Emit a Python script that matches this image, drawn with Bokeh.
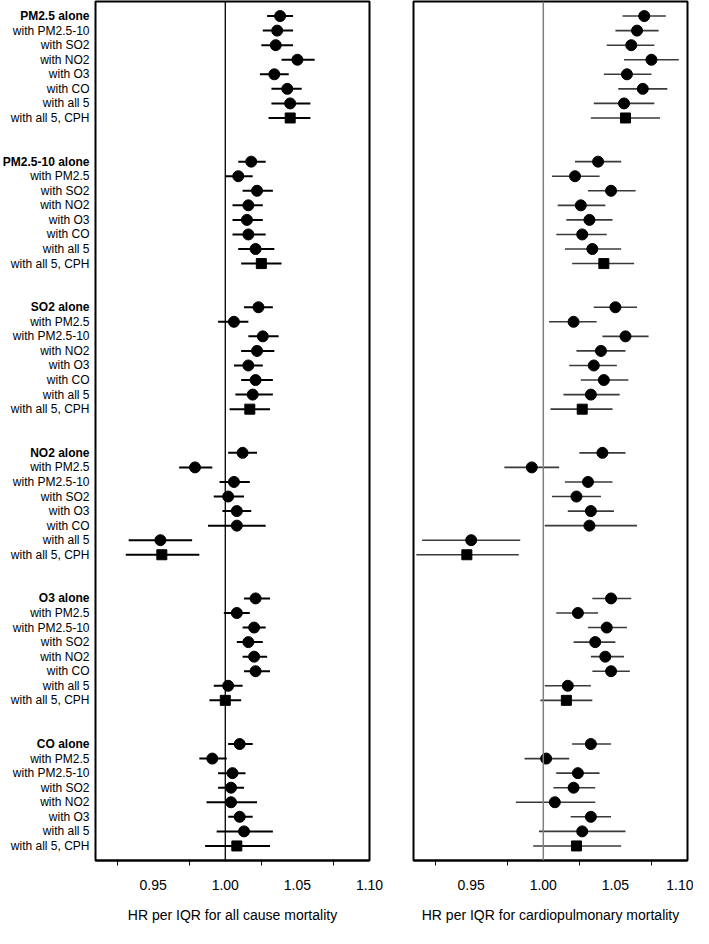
from bokeh.plotting import figure
from bokeh.layouts import row
from bokeh.models import Range1d, FixedTicker, Span
from bokeh.embed import file_html
from bokeh.resources import INLINE
from bokeh.core.properties import value

FONT = "Liberation Sans"

pollutants = ["PM2.5", "PM2.5-10", "SO2", "NO2", "O3", "CO"]

# HR per IQR, all cause mortality (8 models per pollutant)
allcause_hr = [1.038, 1.036, 1.035, 1.050, 1.034, 1.043, 1.045, 1.045,
               1.018, 1.009, 1.022, 1.016, 1.015, 1.016, 1.021, 1.025,
               1.023, 1.006, 1.026, 1.022, 1.016, 1.021, 1.019, 1.017,
               1.012, 0.979, 1.006, 1.002, 1.008, 1.008, 0.955, 0.956,
               1.021, 1.008, 1.020, 1.016, 1.020, 1.021, 1.002, 1.000,
               1.010, 0.991, 1.005, 1.004, 1.004, 1.010, 1.013, 1.008]
allcause_lo = [1.029, 1.026, 1.025, 1.039, 1.024, 1.032, 1.032, 1.030,
               1.009, 1.000, 1.012, 1.005, 1.005, 1.005, 1.009, 1.011,
               1.013, 0.995, 1.016, 1.011, 1.006, 1.011, 1.007, 1.003,
               1.002, 0.968, 0.996, 0.992, 0.998, 0.988, 0.933, 0.931,
               1.013, 0.999, 1.012, 1.008, 1.012, 1.013, 0.992, 0.989,
               1.002, 0.982, 0.995, 0.995, 0.987, 1.002, 0.994, 0.986]
allcause_hi = [1.047, 1.047, 1.047, 1.062, 1.044, 1.053, 1.059, 1.059,
               1.028, 1.019, 1.033, 1.026, 1.026, 1.028, 1.034, 1.039,
               1.033, 1.016, 1.037, 1.034, 1.026, 1.033, 1.033, 1.031,
               1.022, 0.991, 1.017, 1.013, 1.018, 1.028, 0.977, 0.982,
               1.031, 1.017, 1.028, 1.026, 1.029, 1.031, 1.012, 1.011,
               1.019, 1.001, 1.014, 1.013, 1.022, 1.019, 1.033, 1.031]

# HR per IQR, cardiopulmonary mortality
cardio_hr = [1.070, 1.065, 1.061, 1.075, 1.058, 1.069, 1.056, 1.057,
             1.038, 1.022, 1.047, 1.026, 1.032, 1.027, 1.034, 1.042,
             1.050, 1.021, 1.057, 1.040, 1.035, 1.042, 1.033, 1.027,
             1.041, 0.992, 1.031, 1.023, 1.033, 1.032, 0.950, 0.947,
             1.047, 1.024, 1.044, 1.036, 1.043, 1.047, 1.017, 1.016,
             1.033, 1.002, 1.024, 1.021, 1.008, 1.033, 1.027, 1.023]
cardio_lo = [1.055, 1.050, 1.044, 1.056, 1.042, 1.052, 1.035, 1.033,
             1.022, 1.006, 1.031, 1.010, 1.016, 1.009, 1.015, 1.020,
             1.035, 1.004, 1.041, 1.023, 1.018, 1.026, 1.014, 1.005,
             1.025, 0.973, 1.015, 1.006, 1.017, 1.001, 0.916, 0.912,
             1.034, 1.009, 1.031, 1.021, 1.033, 1.034, 1.001, 0.998,
             1.020, 0.987, 1.009, 1.007, 0.981, 1.019, 0.997, 0.993]
cardio_hi = [1.085, 1.080, 1.077, 1.094, 1.075, 1.086, 1.077, 1.081,
             1.054, 1.039, 1.064, 1.043, 1.048, 1.044, 1.054, 1.063,
             1.065, 1.037, 1.073, 1.057, 1.051, 1.059, 1.053, 1.048,
             1.057, 1.011, 1.048, 1.040, 1.049, 1.065, 0.984, 0.983,
             1.061, 1.038, 1.058, 1.050, 1.056, 1.060, 1.033, 1.034,
             1.047, 1.018, 1.039, 1.036, 1.036, 1.047, 1.057, 1.054]

x_ticks = [0.95, 1.00, 1.05, 1.10]
x_minor = [0.925, 0.975, 1.025, 1.075]

# ---- build row labels / positions ----
labels, ypos, is_header, is_cph = [], [], [], []
for gi, pol in enumerate(pollutants):
    others = [o for o in pollutants if o != pol]
    names = [pol + " alone"] + ["with " + o for o in others] + ["with all 5", "with all 5, CPH"]
    for k, nm in enumerate(names):
        labels.append(nm)
        ypos.append(gi * 10 + k)
        is_header.append(k == 0)
        is_cph.append(k == 7)

n_rows = ypos[-1] + 1
y_range = Range1d(n_rows, -1)
H = 928
TOP, BOTTOM = 1, 68
LW = 94      # width of label column
TX = 89      # right edge of label text inside the label column

# ---- label column ----
lab = figure(width=LW, height=H, x_range=Range1d(0, LW), y_range=y_range,
             x_axis_type=None, y_axis_type=None, toolbar_location=None,
             output_backend="svg", min_border_left=0, min_border_right=0,
             min_border_top=TOP, min_border_bottom=BOTTOM)
lab.outline_line_color = None
lab.grid.visible = False
hx = [TX] * sum(is_header)
lab.text(x=hx, y=[y for y, h in zip(ypos, is_header) if h],
         text=[l for l, h in zip(labels, is_header) if h],
         text_align="right", text_baseline="middle", text_font=value(FONT),
         text_font_size="12px", text_font_style="bold", text_color="black")
nh = [not h for h in is_header]
lab.text(x=[TX] * sum(nh), y=[y for y, h in zip(ypos, nh) if h],
         text=[l for l, h in zip(labels, nh) if h],
         text_align="right", text_baseline="middle", text_font=value(FONT),
         text_font_size="12px", text_color="black")


def panel(hr, lo, hi, title, width, bl, br, bar_color, bar_w, ref_color, ref_w):
    p = figure(width=width, height=H, x_range=Range1d(0.91, 1.10), y_range=y_range,
               y_axis_type=None, toolbar_location=None, output_backend="svg",
               min_border_left=bl, min_border_right=br,
               min_border_top=TOP, min_border_bottom=BOTTOM)
    p.grid.visible = False
    p.outline_line_color = "black"
    p.outline_line_width = 2
    ax = p.xaxis[0]
    ax.ticker = FixedTicker(ticks=x_ticks, minor_ticks=x_minor)
    ax.major_label_overrides = {t: f"{t:.2f}" for t in x_ticks}
    ax.major_tick_out = 0
    ax.major_tick_in = 0
    ax.minor_tick_out = 5
    ax.minor_tick_in = 0
    ax.minor_tick_line_color = "black"
    ax.axis_line_color = "black"
    ax.axis_line_width = 2
    ax.major_label_standoff = 14
    ax.major_label_text_font = FONT
    ax.major_label_text_font_size = "14px"
    ax.major_label_text_color = "black"
    ax.axis_label = title
    ax.axis_label_standoff = 14
    ax.axis_label_text_font = FONT
    ax.axis_label_text_font_size = "14px"
    ax.axis_label_text_font_style = "normal"
    ax.axis_label_text_color = "black"

    p.add_layout(Span(location=1.0, dimension="height", line_color=ref_color, line_width=ref_w))
    p.segment(x0=lo, y0=ypos, x1=hi, y1=ypos, line_color=bar_color, line_width=bar_w)
    cx = [v for v, c in zip(hr, is_cph) if not c]
    cy = [y for y, c in zip(ypos, is_cph) if not c]
    sx = [v for v, c in zip(hr, is_cph) if c]
    sy = [y for y, c in zip(ypos, is_cph) if c]
    p.scatter(x=cx, y=cy, marker="circle", size=11, fill_color="black", line_color="black")
    p.scatter(x=sx, y=sy, marker="square", size=10, fill_color="black", line_color="black")
    return p


left = panel(allcause_hr, allcause_lo, allcause_hi, "HR per IQR for all cause mortality",
             300, 1, 25, "black", 2, "black", 1.3)
right = panel(cardio_hr, cardio_lo, cardio_hi, "HR per IQR for cardiopulmonary mortality",
              299, 19, 6, "#3a3a3a", 1.6, "#808080", 1.5)

layout = row(lab, left, right, spacing=0)
open("out.html", "w").write(file_html(layout, INLINE))
